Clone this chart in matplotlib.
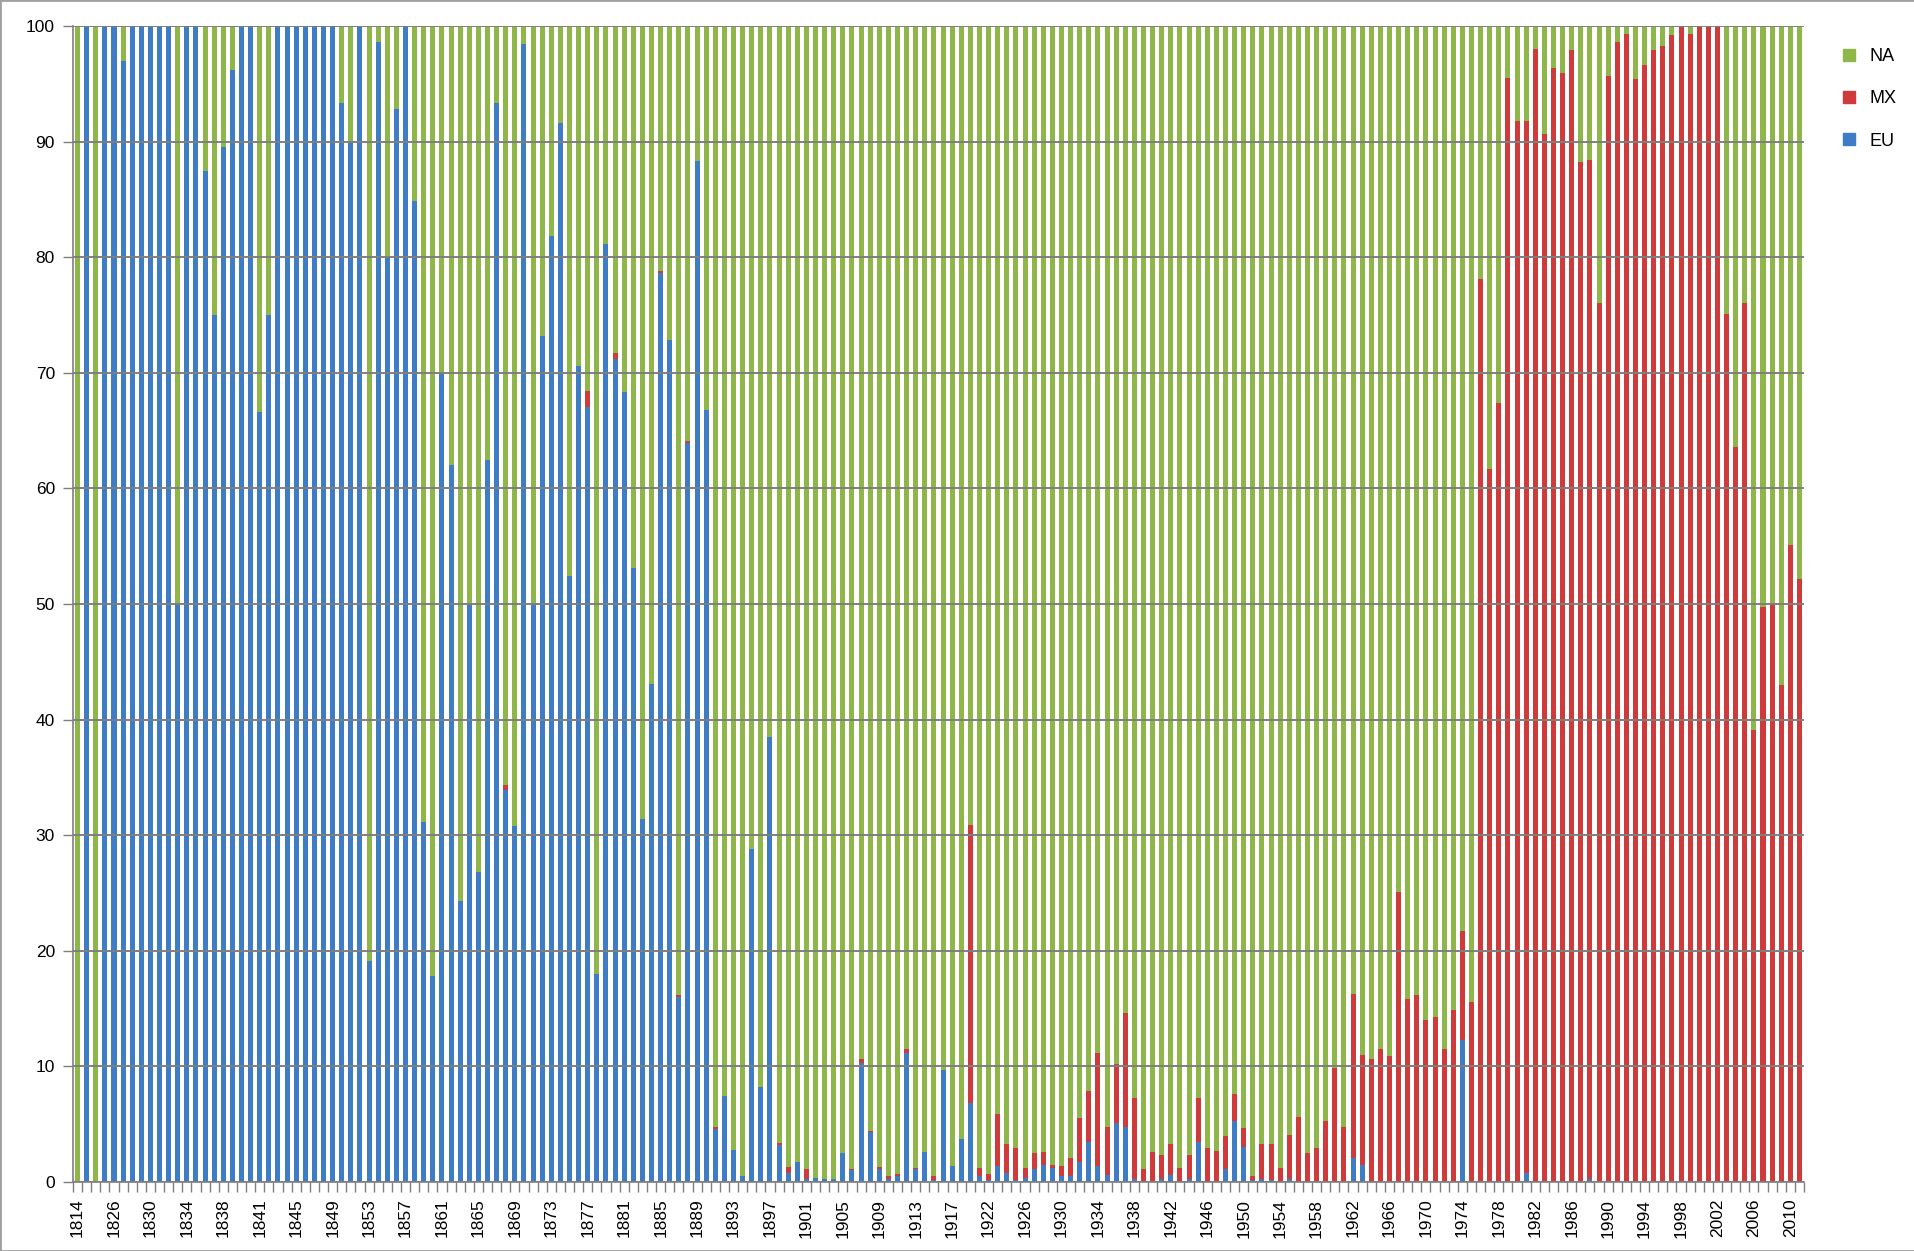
import matplotlib.pyplot as plt
from matplotlib.patches import Rectangle
from matplotlib.lines import Line2D
import numpy as np

plt.rcParams['font.family'] = ['Liberation Sans', 'DejaVu Sans']

# category labels (years as they appear in the source sheet)
years = ([1814] + list(range(1823, 1841)) + [1840] + list(range(1841, 1921))
         + list(range(1922, 2012)))

# share of EU, in percent
eu = [0, 100, 0, 100, 100, 97, 100, 100, 100, 100,
      100, 50, 100, 100, 87.5, 75, 89.5, 96.2, 100, 100,
      66.6, 75, 100, 100, 100, 100, 100, 100, 100, 93.3,
      89.9, 100, 19.1, 98.6, 79.9, 92.8, 100, 84.9, 31.1, 17.8,
      69.9, 62.0, 24.3, 50.0, 26.8, 62.5, 93.3, 33.9, 30.8, 98.4,
      50.0, 73.2, 81.8, 91.6, 52.4, 70.6, 67.0, 18.0, 81.1, 71.2,
      68.3, 53.1, 31.4, 43.1, 78.6, 72.8, 16.0, 63.9, 88.3, 66.8,
      4.6, 7.4, 2.8, 0.5, 28.8, 8.2, 38.5, 3.2, 0.8, 1.7,
      0.3, 0.35, 0.3, 0.3, 2.5, 1.0, 10.3, 4.3, 1.1, 0.3,
      0.5, 11.2, 1.1, 2.6, 0.2, 9.7, 1.4, 3.7, 6.8, 0.5,
      0.15, 1.4, 0.8, 0.15, 0.35, 1.1, 1.5, 1.2, 0.5, 0.5,
      1.7, 3.5, 1.4, 0.6, 5.1, 4.8, 0.3, 0, 0, 0.3,
      0.6, 0, 0.3, 3.5, 0, 0, 1.1, 5.3, 3.0, 0.15,
      0.3, 0.15, 0, 0.3, 0, 0, 0, 0, 0, 0,
      2.1, 1.5, 0, 0, 0, 0, 0, 0, 0, 0,
      0, 0, 12.3, 0, 0, 0, 0, 0, 0, 0.8,
      0, 0, 0, 0, 0, 0, 0.3, 0, 0, 0,
      0, 0, 0, 0, 0, 0, 0, 0, 0, 0,
      0, 0, 0, 0, 0, 0, 0, 0, 0, 0]

# share of MX, in percent
mx = [0, 0, 0, 0, 0, 0, 0, 0, 0, 0,
      0, 0, 0, 0, 0, 0, 0, 0, 0, 0,
      0, 0, 0, 0, 0, 0, 0, 0, 0, 0,
      0, 0, 0, 0, 0, 0, 0, 0, 0, 0,
      0, 0, 0, 0, 0, 0, 0, 0.4, 0, 0,
      0, 0, 0, 0, 0, 0, 1.4, 0, 0, 0.5,
      0, 0, 0, 0, 0.2, 0, 0.2, 0.2, 0, 0,
      0.2, 0, 0, 0, 0, 0, 0, 0.2, 0.5, 0,
      0.8, 0, 0, 0, 0, 0.15, 0.3, 0.15, 0.2, 0.2,
      0.15, 0.3, 0.15, 0, 0.3, 0, 0, 0, 24.1, 0.7,
      0.5, 4.5, 2.5, 2.75, 0.85, 1.4, 1.1, 0.3, 0.9, 1.6,
      3.8, 4.4, 9.8, 4.2, 5.1, 9.8, 7.0, 1.1, 2.6, 2.0,
      2.7, 1.2, 2.0, 3.8, 2.9, 2.7, 2.9, 2.3, 1.7, 0.35,
      3.0, 3.15, 1.2, 3.8, 5.6, 2.5, 2.9, 5.3, 9.9, 4.8,
      14.2, 9.5, 10.6, 11.5, 10.9, 25.1, 15.8, 16.2, 14.0, 14.3,
      11.5, 14.9, 9.4, 15.6, 78.1, 61.7, 67.4, 95.5, 91.8, 91.0,
      98.0, 90.7, 96.4, 95.9, 97.9, 88.2, 88.1, 76.0, 95.7, 98.6,
      99.3, 95.4, 96.6, 97.9, 98.3, 99.2, 100, 99.3, 100, 100,
      99.9, 75.1, 63.6, 76.0, 39.1, 49.7, 50.0, 43.0, 55.1, 52.2]

eu = np.array(eu, dtype=float)
mx = np.array(mx, dtype=float)
na = 100 - eu - mx          # NA fills each bar to 100 %

c_eu = '#3f7cc6'
c_mx = '#cf3a3a'
c_na = '#8fb649'
grid_c = '#7f7f7f'

fig = plt.figure(figsize=(19.15, 12.51), dpi=100)
ax = fig.add_axes([73 / 1915, 1 - 1182 / 1251, (1804 - 73) / 1915, (1182 - 26) / 1251])

x = np.arange(len(years))
w = 0.55
ax.bar(x, eu, width=w, color=c_eu, zorder=2)
ax.bar(x, mx, width=w, bottom=eu, color=c_mx, zorder=2)
ax.bar(x, na, width=w, bottom=eu + mx, color=c_na, zorder=2)

ax.set_xlim(-0.5, len(years) - 0.5)
ax.set_ylim(0, 100)
ax.set_yticks(np.arange(0, 101, 10))
ax.yaxis.grid(True, color=grid_c, linewidth=1.4, zorder=3)
ax.set_axisbelow(False)

ax.set_xticks(x[::4])
ax.set_xticklabels([str(y) for y in years[::4]], rotation=90)
ax.set_xticks(np.arange(-0.5, len(years), 1), minor=True)
ax.tick_params(axis='x', which='major', length=0, pad=12, labelsize=12.5)
ax.tick_params(axis='x', which='minor', length=7, color=grid_c, width=1)
ax.tick_params(axis='y', length=7, color=grid_c, width=1, labelsize=12.5, pad=6)

for s in ['top', 'right']:
    ax.spines[s].set_visible(False)
for s in ['left', 'bottom']:
    ax.spines[s].set_color(grid_c)
    ax.spines[s].set_linewidth(1.2)
    ax.spines[s].set_zorder(4)

handles = [Line2D([], [], marker='s', linestyle='none', markersize=9, color=c)
           for c in (c_na, c_mx, c_eu)]
fig.legend(handles, ['NA', 'MX', 'EU'], loc='upper left',
           bbox_to_anchor=(1822 / 1915, 1 - 39 / 1251), frameon=False,
           fontsize=13, labelspacing=1.4, handletextpad=0.15, borderpad=0)

fig.patches.append(Rectangle((0, 0), 1, 1, transform=fig.transFigure, fill=False,
                             edgecolor='#a0a0a0', linewidth=2))

fig.savefig('out.png', dpi=100)
